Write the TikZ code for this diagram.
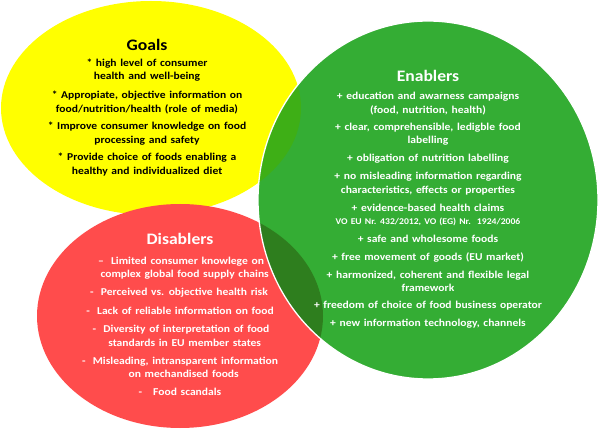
\documentclass[tikz,border=0pt]{standalone}
\usepackage{fontspec}
\setmainfont{Carlito}[FakeStretch=1.1, WordSpace=1.4]
\definecolor{cyel}{HTML}{FFFF00}
\definecolor{cred}{HTML}{FF4C4C}
\definecolor{cgreen}{HTML}{34AD34}
\definecolor{cgreenred}{HTML}{2E7E1E}
\definecolor{cgreenyel}{HTML}{3EAF16}
\tikzset{
  body/.style={align=center, inner sep=0pt, font=\bfseries\fontsize{10.5}{13.4}\selectfont},
  goaltxt/.style={body, text=black},
  whitetxt/.style={body, text=white},
  ttl/.style={inner sep=0pt, font=\bfseries\fontsize{16}{18}\selectfont},
}
\begin{document}
\begin{tikzpicture}[x=1pt,y=-1pt]
\useasboundingbox (0,0) rectangle (600,430);
% circles
\fill[cyel] (151,108) ellipse [x radius=150, y radius=107];
\fill[cred] (180,316) ellipse [x radius=143, y radius=112];
\fill[cgreen] (428,200) ellipse [x radius=170, y radius=179];
\begin{scope}
  \clip (428,200) ellipse [x radius=170, y radius=179];
  \fill[cgreenyel] (151,108) ellipse [x radius=150, y radius=107];
  \fill[cgreenred] (180,316) ellipse [x radius=143, y radius=112];
\end{scope}
\draw[white, line width=1.3pt] (428,200) ellipse [x radius=170, y radius=179];

% Goals
\node[ttl, text=black] (g0) at (147,45) {Goals};
\node[goaltxt] (g1) at (147,70) {* high level of consumer\\health and well-being};
\node[goaltxt] (g2) at (147,102.5) {* Appropiate, objective information on\\food/nutrition/health (role of media)};
\node[goaltxt] (g3) at (147,133.5) {* Improve consumer knowledge on food\\processing and safety};
\node[goaltxt] (g4) at (147,164.5) {* Provide choice of foods enabling\ a\\healthy and individualized diet};

% Enablers
\node[ttl, text=white] (e0) at (428,76) {Enablers};
\node[whitetxt] (e1) at (428,103.5) {+ education and awarness campaigns\\(food, nutrition, health)};
\node[whitetxt] (e2) at (428,134.5) {+ clear, comprehensible, ledigble food\\labelling};
\node[whitetxt] (e3) at (428,159) {+ obligation of nutrition labelling};
\node[whitetxt] (e4) at (428,183.5) {+ no misleading information regarding\\characteristics, effects or properties};
\node[whitetxt] (e5) at (428,215) {+ evidence-based health claims\\{\fontsize{8.8}{10}\selectfont VO EU Nr. 432/2012, VO (EG) Nr.\ \ 1924/2006}};
\node[whitetxt] (e6) at (428,239) {+ safe and wholesome foods};
\node[whitetxt] (e7) at (428,257) {+ free movement of goods (EU market)};
\node[whitetxt] (e8) at (428,281.5) {+ harmonized, coherent and flexible legal\\framework};
\node[whitetxt] (e9) at (428,306) {+ freedom of choice of food business operator};
\node[whitetxt] (e10) at (428,324) {+ new information technology, channels};

% Disablers
\node[ttl, text=white] (d0) at (180,239) {Disablers};
\node[whitetxt] (d1) at (181,268.5) {–\ \ Limited consumer knowlege on\\\ \ complex global food supply chains};
\node[whitetxt] (d2) at (179,293) {-\ \ Perceived vs. objective health risk};
\node[whitetxt] (d3) at (180,311) {-\ \ Lack of reliable information on food};
\node[whitetxt] (d4) at (181,336) {-\ \ Diversity of interpretation of food\\\ \ standards in EU member states};
\node[whitetxt] (d5) at (180,367.5) {-\ \ Misleading, intransparent\ information\\\ \ on mechandised foods};
\node[whitetxt] (d6) at (180,392) {-\ \ \ Food scandals};
\end{tikzpicture}
\end{document}
